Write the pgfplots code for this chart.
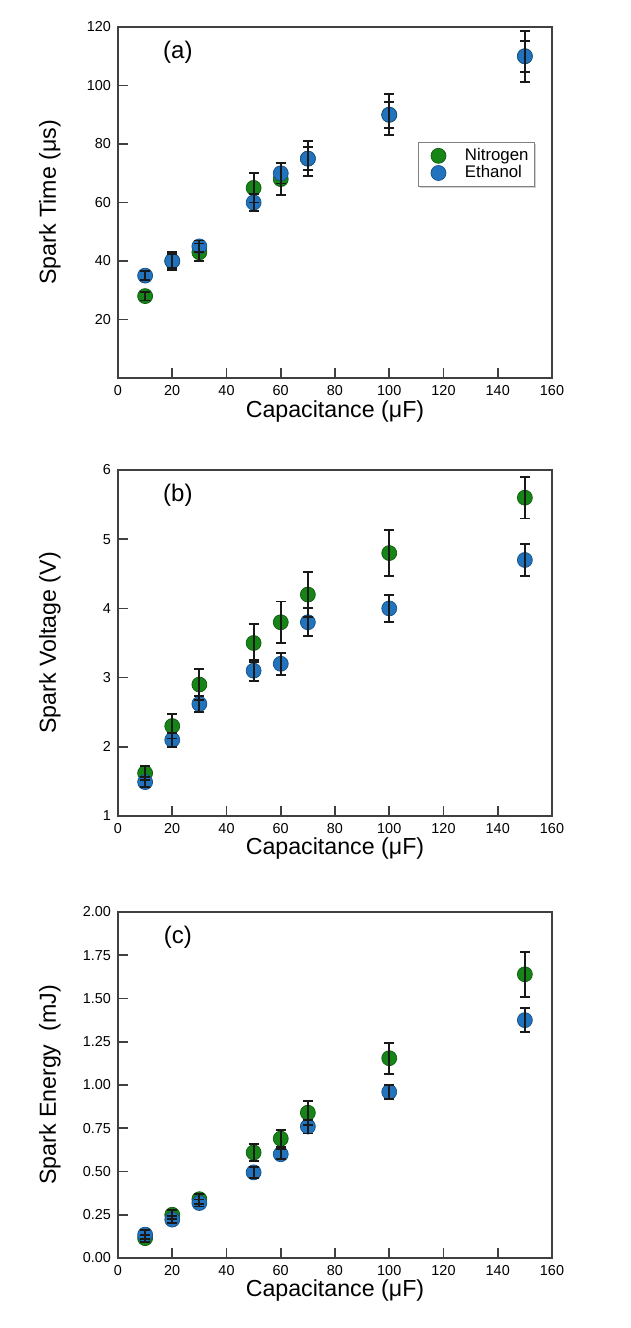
\documentclass[border=0pt]{standalone}
\usepackage{fontspec}
\setmainfont{Liberation Sans}
\usepackage{pgfplots}
\pgfplotsset{compat=1.18}
\usepackage{pgfplotstable}
\usetikzlibrary{shadows}
\definecolor{ngreen}{RGB}{22,132,22}
\definecolor{eblue}{RGB}{33,115,190}

\pgfplotstableread{
x y e
10 28 1.5
20 40 2.5
30 43 3
50 65 5
60 68 5.5
70 75 4
100 90 4.5
150 110 5.3
}\TimeN
\pgfplotstableread{
x y e
10 35 1.5
20 40 3
30 45 2
50 60 3
60 70 3.5
70 75 6
100 90 7
150 110 8.7
}\TimeE
\pgfplotstableread{
x y e
10 1.62 0.1
20 2.3 0.18
30 2.9 0.22
50 3.5 0.28
60 3.8 0.3
70 4.2 0.33
100 4.8 0.33
150 5.6 0.3
}\VoltN
\pgfplotstableread{
x y e
10 1.49 0.07
20 2.1 0.1
30 2.62 0.12
50 3.1 0.15
60 3.2 0.16
70 3.8 0.2
100 4.0 0.2
150 4.7 0.23
}\VoltE
\pgfplotstableread{
x y e
10 0.115 0.02
20 0.25 0.025
30 0.34 0.03
50 0.61 0.05
60 0.69 0.05
70 0.84 0.07
100 1.155 0.09
150 1.64 0.13
}\EnerN
\pgfplotstableread{
x y e
10 0.135 0.025
20 0.222 0.02
30 0.318 0.02
50 0.495 0.03
60 0.60 0.03
70 0.76 0.04
100 0.96 0.04
150 1.375 0.07
}\EnerE

\pgfplotsset{
  myaxis/.style={
    clip mode=individual,
    scale only axis, width=217pt,
    xmin=0, xmax=160, xtick={0,20,...,160},
    tick align=inside, xtick pos=bottom, ytick pos=left,
    major tick length=5pt,
    axis line style={black!75, line width=0.8pt},
    every tick/.style={black!75, line width=0.8pt},
    tick label style={font=\fontsize{7.2}{8}\selectfont},
    /pgf/number format/assume math mode=true,
    label style={font=\fontsize{11.6}{13}\selectfont},
    xlabel={Capacitance (μF)},
    xlabel style={at={(axis description cs:0.5,-0.095)}, anchor=center},
    ylabel style={at={(axis description cs:-0.157,0.5)}, anchor=center},
  },
  nmark/.style={only marks, mark=*, mark size=3.75pt,
    mark options={fill=ngreen, draw=ngreen!70!black, line width=0.35pt}},
  emark/.style={only marks, mark=*, mark size=3.75pt,
    mark options={fill=eblue, draw=eblue!70!black, line width=0.35pt}},
  ebar/.style={draw=none, mark=none, forget plot,
    error bars/.cd, y dir=both, y explicit,
    error bar style={draw=black!90, line width=0.95pt},
    error mark options={rotate=90, mark size=2.5pt, draw=black!90, line width=0.95pt}},
}

\begin{document}
\begin{tikzpicture}
\useasboundingbox (0,0) rectangle (315.5pt,-664pt);

% (a)
\begin{axis}[myaxis, at={(59pt,-189pt)}, anchor=south west, height=175.5pt,
  ymin=0, ymax=120, ytick={20,40,...,120},
  ylabel={Spark Time (μs)},
  legend image code/.code={\path (0pt,-4pt) (20pt,4pt);
    \draw[#1] plot coordinates {(9pt,0pt)};},
  legend style={at={(axis description cs:0.691,0.672)}, anchor=north west,
    font=\fontsize{8.4}{10}\selectfont, draw=black!50, line width=0.5pt,
    fill=white, drop shadow={shadow xshift=0.8pt, shadow yshift=-0.8pt, fill=black!35},
    inner sep=0.8pt, row sep=-3pt, cells={anchor=west}},
  legend cell align=left]
\addplot[nmark] table[x=x,y=y]{\TimeN};
\addlegendentry{Nitrogen}
\addplot[emark] table[x=x,y=y]{\TimeE};
\addlegendentry{Ethanol}
\addplot[ebar] table[x=x,y=y,y error=e]{\TimeN};
\addplot[ebar] table[x=x,y=y,y error=e]{\TimeE};
\node[font=\fontsize{12}{14}\selectfont] at (axis description cs:0.138,0.928) {(a)};
\end{axis}

% (b)
\begin{axis}[myaxis, at={(59pt,-408pt)}, anchor=south west, height=173pt,
  ymin=1, ymax=6, ytick={1,2,...,6},
  ylabel={Spark Voltage (V)}]
\addplot[nmark] table[x=x,y=y]{\VoltN};
\addplot[emark] table[x=x,y=y]{\VoltE};
\addplot[ebar] table[x=x,y=y,y error=e]{\VoltN};
\addplot[ebar] table[x=x,y=y,y error=e]{\VoltE};
\node[font=\fontsize{12}{14}\selectfont] at (axis description cs:0.138,0.928) {(b)};
\end{axis}

% (c)
\begin{axis}[myaxis, at={(59pt,-629pt)}, anchor=south west, height=173pt,
  ymin=0, ymax=2, ytick={0,0.25,...,2},
  yticklabel style={/pgf/number format/.cd, fixed, fixed zerofill, precision=2},
  ylabel={Spark Energy~ (mJ)}]
\addplot[nmark] table[x=x,y=y]{\EnerN};
\addplot[emark] table[x=x,y=y]{\EnerE};
\addplot[ebar] table[x=x,y=y,y error=e]{\EnerN};
\addplot[ebar] table[x=x,y=y,y error=e]{\EnerE};
\node[font=\fontsize{12}{14}\selectfont] at (axis description cs:0.138,0.928) {(c)};
\end{axis}
\end{tikzpicture}
\end{document}
